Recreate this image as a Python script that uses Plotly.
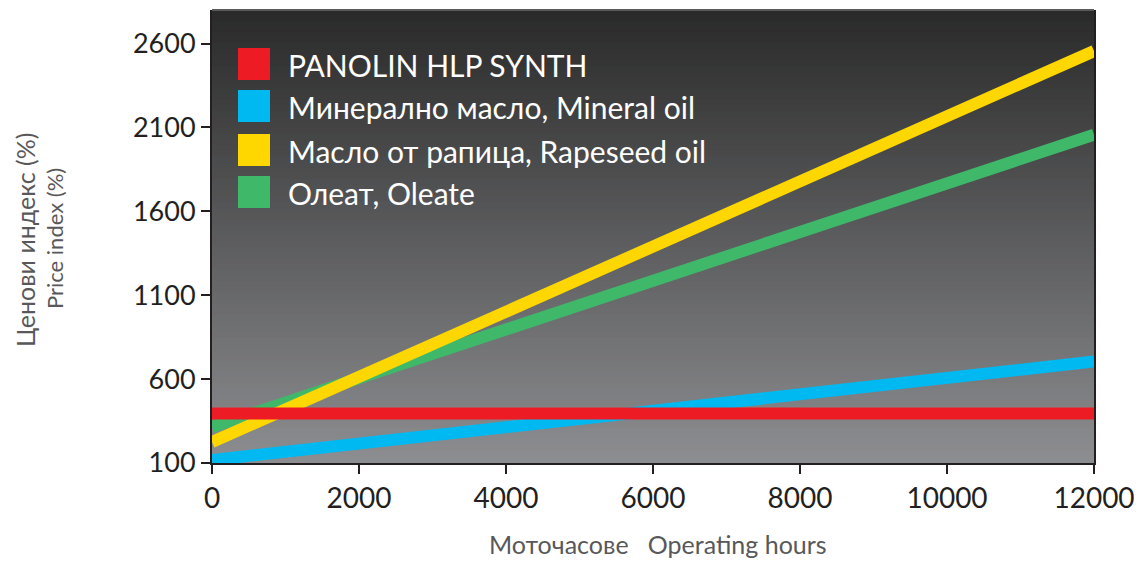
import plotly.graph_objects as go

# ---- data ----
hours = [0, 12000]
series_names = ["PANOLIN HLP SYNTH", "Минерално масло, Mineral oil",
                "Масло от рапица, Rapeseed oil", "Олеат, Oleate"]
panolin = [395, 395]
mineral = [118, 705]
rapeseed = [225, 2555]
oleate = [315, 2057]
colors = ["#ed1c24", "#00b9f1", "#ffd700", "#3fb86a"]
x_ticks = [0, 2000, 4000, 6000, 8000, 10000, 12000]
x_tick_text = ["0", "2000", "4000", "6000", "8000", "10000", "12000"]
y_ticks = [100, 600, 1100, 1600, 2100, 2600]

OFF = 8  # page body margin
W, H = 1142 - OFF, 563 - OFF
PL, PT, PR, PB = 212, 10, 1094, 463  # plot area in page pixels
L = PL - OFF
T = PT - OFF
R = W - (PR - OFF)
B = H - (PB - OFF)
pw, ph = PR - PL, PB - PT

def px_x(px):
    return (px - PL) / pw

def px_y(py):
    return (PB - py) / ph

FONT = "Lato"
fig = go.Figure()

values = [panolin, mineral, rapeseed, oleate]
draw_order = [1, 3, 2, 0]
for i in draw_order:
    fig.add_trace(go.Scatter(x=hours, y=values[i], mode="lines",
                             line=dict(color=colors[i], width=12),
                             name=series_names[i], showlegend=False,
                             hoverinfo="x+y+name"))

# gradient background bands
shapes = []
n = 80
top_c = (42, 42, 42)
bot_c = (140, 141, 144)
for k in range(n):
    t = k / (n - 1)
    c = tuple(int(round(top_c[j] + (bot_c[j] - top_c[j]) * t)) for j in range(3))
    y1 = 1 - k / n
    y0 = 1 - (k + 1) / n
    shapes.append(dict(type="rect", xref="x domain", yref="y domain",
                       x0=0, x1=1, y0=y0 - 0.002, y1=y1 + 0.002,
                       fillcolor="rgb(%d,%d,%d)" % c, line=dict(width=0),
                       layer="below"))
# top light border
shapes.append(dict(type="line", xref="x domain", yref="y domain",
                   x0=0, x1=1, y0=1, y1=1,
                   line=dict(color="#8a8a8a", width=1), layer="above"))

annotations = []
# legend (manual)
row_centers = [64, 106, 150, 192]
for i, name in enumerate(series_names):
    cy = row_centers[i]
    shapes.append(dict(type="rect", xref="paper", yref="paper",
                       x0=px_x(238), x1=px_x(270),
                       y0=px_y(cy + 16), y1=px_y(cy - 16),
                       fillcolor=colors[i], line=dict(width=0), layer="above"))
    annotations.append(dict(text=name, xref="paper", yref="paper",
                            x=px_x(286), y=px_y(cy + 1), xanchor="left",
                            yanchor="middle", showarrow=False,
                            font=dict(family=FONT, size=30, color="white")))

# axis titles
annotations.append(dict(text="Моточасове   Operating hours", xref="paper", yref="paper",
                        x=px_x(658), y=px_y(544), xanchor="center", yanchor="middle",
                        showarrow=False,
                        font=dict(family=FONT, size=25, color="#58585a")))
annotations.append(dict(text="Ценови индекс (%)", xref="paper", yref="paper",
                        x=px_x(25), y=px_y(240), xanchor="center", yanchor="middle",
                        textangle=-90, showarrow=False,
                        font=dict(family=FONT, size=25, color="#58585a")))
annotations.append(dict(text="Price index (%)", xref="paper", yref="paper",
                        x=px_x(55), y=px_y(239), xanchor="center", yanchor="middle",
                        textangle=-90, showarrow=False,
                        font=dict(family=FONT, size=22, color="#58585a")))

fig.update_layout(
    width=W, height=H,
    margin=dict(l=L, r=R, t=T, b=B),
    paper_bgcolor="white",
    plot_bgcolor="#5a5a5c",
    shapes=shapes,
    annotations=annotations,
    showlegend=False,
    xaxis=dict(range=[0, 12000], tickvals=x_ticks, ticktext=x_tick_text,
               showgrid=False, zeroline=False,
               showline=True, linecolor="#231f20", linewidth=2,
               ticks="outside", ticklen=9, tickwidth=2, tickcolor="#231f20",
               tickfont=dict(family=FONT, size=28, color="#231f20")),
    yaxis=dict(range=[100, 2800], tickvals=y_ticks,
               showgrid=False, zeroline=False,
               showline=True, linecolor="#231f20", linewidth=2, mirror=True,
               ticks="outside", ticklen=9, tickwidth=2, tickcolor="#231f20",
               tickfont=dict(family=FONT, size=27, color="#231f20")),
)

fig.write_html("out.html")
